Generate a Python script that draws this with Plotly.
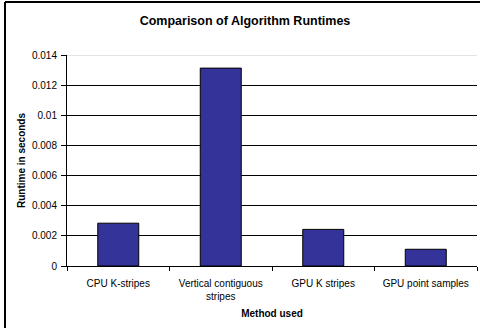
import plotly.graph_objects as go

methods = ["CPU K-stripes", "Vertical contiguous<br>stripes", "GPU K stripes", "GPU point samples"]
runtimes = [0.00284, 0.01313, 0.00243, 0.00111]
y_tickvals = [0, 0.002, 0.004, 0.006, 0.008, 0.010, 0.012, 0.014]
y_ticktext = ["0", "0.002", "0.004", "0.006", "0.008", "0.01", "0.012", "0.014"]

W, H = 480, 328
ml, mr, mt, mb = 67, 3, 55, 62
pw, ph = W - ml - mr, H - mt - mb

FONT = "Arial, Liberation Sans, sans-serif"

fig = go.Figure(go.Bar(
    x=methods, y=runtimes,
    marker=dict(color="#333399", line=dict(color="black", width=1)),
    width=0.4,
    hoverinfo="skip",
))

def px_x(x):
    return (x - ml) / pw

def px_y(y):
    return (H - mb - y) / ph

fig.update_layout(
    width=W, height=H,
    margin=dict(l=ml, r=mr, t=mt, b=mb),
    paper_bgcolor="white", plot_bgcolor="white",
    font=dict(family=FONT, size=10, color="black"),
    showlegend=False,
    title=dict(text="<b>Comparison of Algorithm Runtimes</b>", x=245 / W, xanchor="center",
               xref="container", y=1 - 21 / H, yanchor="middle", yref="container",
               font=dict(size=12.5, family=FONT, color="black")),
    xaxis=dict(
        type="category", range=[-0.5, 3.5],
        showline=True, linecolor="black", linewidth=1,
        ticks="outside", tickson="boundaries", ticklen=4, tickcolor="black",
        ticklabelstandoff=8,
        showgrid=False,
        tickfont=dict(size=10, family=FONT, color="black"),
        title=dict(text="<b>Method used</b>", font=dict(size=10, family=FONT), standoff=8),
    ),
    yaxis=dict(
        range=[0, 0.014],
        tickvals=y_tickvals, ticktext=y_ticktext,
        showline=True, linecolor="black", linewidth=1,
        ticks="outside", ticklen=5, tickcolor="black",
        ticklabelstandoff=2,
        showgrid=True, gridcolor="black", gridwidth=1,
        zeroline=False,
        tickfont=dict(size=10, family=FONT, color="black"),
        title=dict(text="<b>Runtime in seconds</b>", font=dict(size=10, family=FONT), standoff=4),
    ),
    shapes=[
        dict(type="line", xref="paper", yref="y", x0=0, x1=1, y0=0.014, y1=0.014,
             line=dict(color="#c8c8c8", width=1)),
        dict(type="line", xref="paper", yref="paper", x0=px_x(5), x1=px_x(5),
             y0=px_y(H + 5), y1=px_y(2), line=dict(color="black", width=2)),
        dict(type="line", xref="paper", yref="paper", x0=px_x(5), x1=px_x(W + 5),
             y0=px_y(2), y1=px_y(2), line=dict(color="black", width=2)),
    ],
)

fig.write_html("out.html", config={"displayModeBar": False},
               post_script="document.body.style.margin='0';document.body.style.overflow='hidden';")
